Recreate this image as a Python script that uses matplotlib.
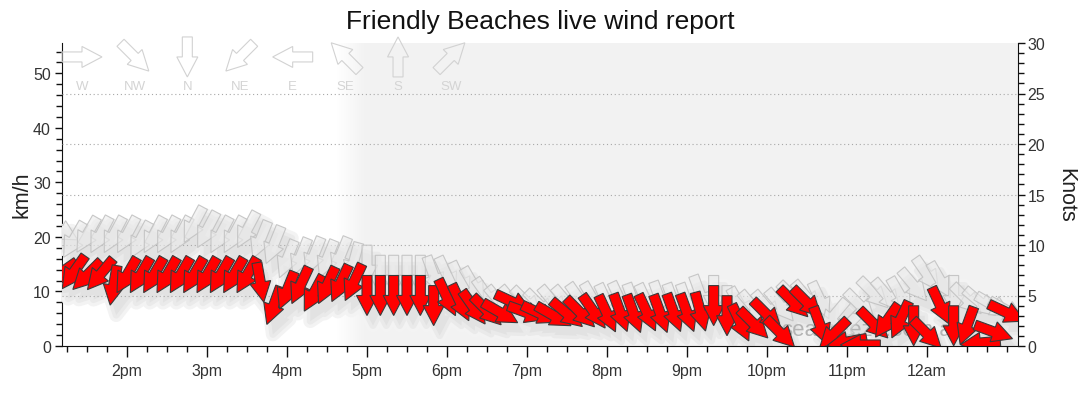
import matplotlib
matplotlib.use('Agg')
import matplotlib.pyplot as plt
import matplotlib.transforms as mtransforms
from matplotlib.patches import Polygon
from matplotlib.colors import LinearSegmentedColormap
from matplotlib.ticker import MultipleLocator
import numpy as np

plt.rcParams['font.family'] = ['Liberation Sans', 'DejaVu Sans']

TITLE = "Friendly Beaches live wind report"

times = ["13:10", "13:20", "13:30", "13:40", "13:50", "14:00", "14:10", "14:20", "14:30",
         "14:40", "14:50", "15:00", "15:10", "15:20", "15:30", "15:40", "15:50", "16:00",
         "16:10", "16:20", "16:30", "16:40", "16:50", "17:00", "17:10", "17:20", "17:30",
         "17:40", "17:50", "18:00", "18:10", "18:20", "18:30", "18:40", "18:50", "19:00",
         "19:10", "19:20", "19:30", "19:40", "19:50", "20:00", "20:10", "20:20", "20:30",
         "20:40", "20:50", "21:00", "21:10", "21:20", "21:30", "21:40", "21:50", "22:00",
         "22:10", "22:20", "22:30", "22:40", "22:50", "23:00", "23:10", "23:20", "23:30",
         "23:40", "23:50", "00:00", "00:10", "00:20", "00:30", "00:40", "00:50", "01:00"]

# wind speed (knots) and direction the wind comes from (degrees)
speed_kn = [7.2, 7.3, 7.0, 7.1, 6.0, 7.0, 7.0, 7.0, 7.0, 7.0, 7.0, 7.0, 7.0, 7.0, 7.0,
            6.3, 4.0, 5.5, 6.0, 5.2, 6.0, 6.2, 6.3, 5.0, 5.0, 5.0, 5.0, 5.0, 4.0,
            4.8, 4.3, 3.8, 3.5, 3.3, 4.3, 3.3, 3.2, 3.0, 3.2, 3.3, 3.4,
            3.2, 3.3, 3.2, 3.3, 3.2, 3.3, 3.3, 3.4, 4.0, 3.0, 2.3, 2.2,
            3.1, 1.3, 4.3, 4.3, 2.0, 1.2, 0.4, 0.1, 2.2, 2.5, 2.6, 2.0,
            1.2, 4.0, 2.0, 2.0, 0.3, 1.4, 3.3]
speed_dir = [55, 35, 45, 40, 10, 30, 30, 30, 30, 30, 30, 30, 30, 30, 30,
             350, 20, 22, 25, 28, 25, 25, 25, 0, 0, 0, 0, 0, 0,
             335, 335, 325, 315, 300, 295, 290, 295, 300, 310, 315, 325,
             335, 340, 340, 335, 340, 340, 340, 345, 0, 0, 335, 315,
             315, 315, 315, 315, 340, 45, 80, 90, 315, 35, 25, 0,
             315, 335, 0, 20, 85, 290, 295]
# gusts (knots) and their direction
gust_kn = [11.5, 10.5, 11.0, 11.0, 11.0, 11.0, 10.5, 11.0, 11.0, 11.0, 12.0, 11.5, 11.0, 11.0, 11.5,
           10.5, 10.0, 8.6, 8.8, 8.9, 8.6, 8.9, 8.3, 8.0, 7.0, 7.0, 7.0, 7.0, 7.0,
           7.0, 6.5, 6.0, 5.0, 4.3, 4.3, 4.3, 4.0, 4.3, 4.3, 4.5, 4.5,
           4.3, 4.5, 4.3, 4.3, 4.5, 4.3, 4.3, 5.1, 5.0, 4.0, 4.0, 3.8,
           3.8, 4.0, 4.8, 4.8, 4.5, 3.0, 2.0, 4.0, 5.2, 5.0, 5.0, 6.0,
           7.1, 6.5, 5.0, 4.6, 4.3, 4.0, 3.5]
gust_dir = [300, 30, 30, 28, 28, 28, 28, 28, 28, 28, 28, 28, 28, 28, 28,
            22, 22, 22, 22, 22, 22, 22, 15, 0, 0, 0, 0, 0, 340,
            335, 335, 330, 325, 320, 320, 315, 315, 320, 320, 325, 330,
            335, 335, 340, 335, 340, 340, 340, 340, 0, 0, 330, 320,
            320, 320, 315, 320, 335, 40, 45, 315, 315, 320, 330, 320,
            325, 330, 0, 315, 310, 300, 300]

tick_hours = [14, 15, 16, 17, 18, 19, 20, 21, 22, 23, 24]
tick_labels = ["2pm", "3pm", "4pm", "5pm", "6pm", "7pm", "8pm", "9pm", "10pm", "11pm", "12am"]
compass_labels = ["W", "NW", "N", "NE", "E", "SE", "S", "SW"]
compass_dirs = [270, 315, 0, 45, 90, 135, 180, 225]
night_start, night_full = 16.62, 16.98
x_min, x_max = 13.1875, 25.1375
KMH_PER_KN = 1.852
WATERMARK = "seabreeze.com.au"


def to_hours(s):
    h, m = map(int, s.split(":"))
    if h < 12:
        h += 24
    return h + m / 60.0


hours = [to_hours(t) for t in times]

fig = plt.figure(figsize=(10.8, 4.14), dpi=100)
ax = fig.add_axes([62 / 1080, 67 / 414, 956 / 1080, 303 / 414])
ax.set_xlim(x_min, x_max)
ax.set_ylim(0, 30)

# night shading
grad = np.linspace(0, 1, 256).reshape(1, -1)
cmap = LinearSegmentedColormap.from_list("night", ["#ffffff", "#f2f2f2"])
ax.imshow(grad, extent=[night_start, night_full, 0, 30], aspect="auto", cmap=cmap,
          zorder=0, interpolation="bilinear")
ax.axvspan(night_full, x_max, color="#f2f2f2", zorder=0, lw=0)
ax.set_xlim(x_min, x_max)
ax.set_ylim(0, 30)

for k in [5, 10, 15, 20, 25]:
    ax.axhline(k, color="#a8a8a8", lw=0.8, ls=(0, (1, 2.5)), zorder=1.5)

ARROW = np.array([[-20, -5], [0, -5], [0, -10.5], [20, 0], [0, 10.5], [0, 5], [-20, 5]])


def arrow_tr(x, y, direction, base, dx=0.0, dy=0.0):
    ang = -90 - direction
    return (mtransforms.Affine2D().rotate_deg(ang).translate(dx, dy).scale(1 / fig.dpi)
            + fig.dpi_scale_trans + mtransforms.ScaledTranslation(x, y, base))


clip = mtransforms.TransformedBbox(mtransforms.Bbox([[0, -0.3], [1.05, 1.0]]), ax.transAxes)


def add_arrow(x, y, d, base, dx=0, dy=0, clipbox=clip, **kw):
    p = Polygon(ARROW, closed=True, transform=arrow_tr(x, y, d, base, dx, dy), **kw)
    p.set_clip_box(clipbox)
    p.set_clip_on(clipbox is not None)
    ax.add_patch(p)
    return p


# soft shadows (layered)
layers = [(10, "#f3f3f3", "#f3f3f3", 1.0), (5, "#eaeaea", "#eaeaea", 1.1), (0, "#e2e2e2", "#e2e2e2", 1.2)]
for lw, fc, ec, z in layers:
    for ys, ds in [(gust_kn, gust_dir), (speed_kn, speed_dir)]:
        for x, y, d in zip(hours, ys, ds):
            add_arrow(x, y, d, ax.transData, 6, -10, facecolor=fc, edgecolor=ec,
                      lw=lw, joinstyle="round", zorder=z)

# watermark
ax.text(0.752, 0.056, WATERMARK, transform=ax.transAxes, fontsize=16, color="#b4b4b4",
        ha="left", va="center", zorder=1.6)

# gust arrows
for x, y, d in zip(hours, gust_kn, gust_dir):
    add_arrow(x, y, d, ax.transData, facecolor=(0.92, 0.92, 0.92, 0.6),
              edgecolor=(0.76, 0.76, 0.76, 0.9), lw=0.8, zorder=2)

# speed arrows
for x, y, d in zip(hours, speed_kn, speed_dir):
    add_arrow(x, y, d, ax.transData, facecolor="#ff0000", edgecolor="#3a3a3a",
              lw=0.8, zorder=3)

# direction legend
for i, (lab, d) in enumerate(zip(compass_labels, compass_dirs)):
    lx = 0.0209 + i * 0.0551
    add_arrow(lx, 0.954, d, ax.transAxes, clipbox=None, facecolor="none",
              edgecolor="#d2d2d2", lw=0.8, zorder=1.7)
    ax.text(lx, 0.858, lab, transform=ax.transAxes, fontsize=9.5, color="#d4d4d4",
            ha="center", va="center", zorder=1.7)

# axes styling
ax.spines["top"].set_visible(False)
ax.spines["left"].set_visible(False)
ax.spines["right"].set_color("#111111")
ax.spines["bottom"].set_color("#111111")
ax.yaxis.tick_right()
ax.set_yticks([0, 5, 10, 15, 20, 25, 30])
ax.yaxis.set_minor_locator(MultipleLocator(1))
ax.set_xticks(tick_hours, tick_labels)
ax.xaxis.set_minor_locator(MultipleLocator(0.25))
ax.tick_params(axis="y", which="major", length=5, width=1, colors="#111111",
               labelcolor="#333333", labelsize=11.5, pad=2)
ax.tick_params(axis="y", which="minor", length=4, width=1, colors="#111111")
ax.tick_params(axis="x", which="major", length=8, width=1, colors="#111111",
               labelcolor="#333333", labelsize=11.5, pad=4)
ax.tick_params(axis="x", which="minor", length=4, width=1, colors="#111111")

sec = ax.secondary_yaxis("left", functions=(lambda k: k * KMH_PER_KN, lambda v: v / KMH_PER_KN))
sec.set_yticks([0, 10, 20, 30, 40, 50])
sec.yaxis.set_minor_locator(MultipleLocator(2))
sec.spines["left"].set_color("#111111")
sec.tick_params(axis="y", which="major", length=5, width=1, colors="#111111",
                labelcolor="#333333", labelsize=11.5, pad=3)
sec.tick_params(axis="y", which="minor", length=4, width=1, colors="#111111")

fig.text(22 / 1080, 1 - 195 / 414, "km/h", rotation=90, fontsize=15.5, color="#222222",
         ha="center", va="center")
fig.text(1066 / 1080, 1 - 195 / 414, "Knots", rotation=270, fontsize=15.5, color="#222222",
         ha="center", va="center")
fig.text(0.5, 1 - 22 / 414, TITLE, fontsize=19, color="#111111", ha="center", va="center")

fig.savefig("out.png", dpi=100)
